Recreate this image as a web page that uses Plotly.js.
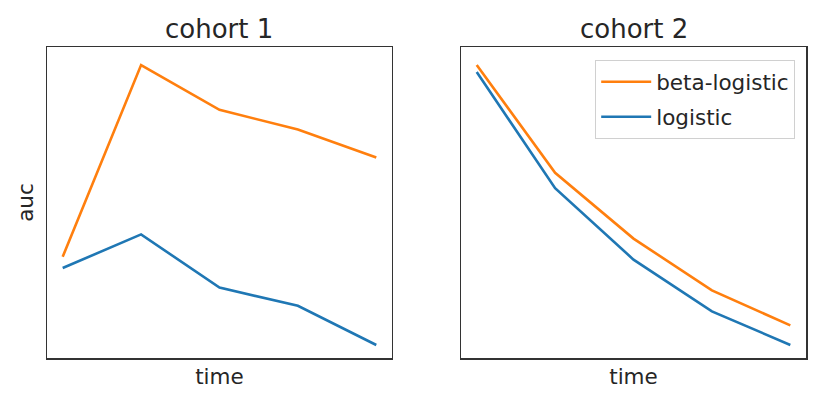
<!DOCTYPE html>
<html><head><meta charset="utf-8">
<script src="https://cdn.plot.ly/plotly-3.0.1.min.js"></script>
<style>body{margin:0;padding:0;background:#fff}</style>
</head><body>
<div id="chart" style="width:831px;height:407px"></div>
<script>
const time = [0, 1, 2, 3, 4];
const cohort1BetaLogistic = [0.663, 0.800, 0.768, 0.754, 0.734];
const cohort1Logistic = [0.655, 0.679, 0.641, 0.628, 0.600];
const cohort2BetaLogistic = [0.800, 0.723, 0.676, 0.639, 0.614];
const cohort2Logistic = [0.795, 0.712, 0.661, 0.624, 0.600];
const subplotTitles = ["cohort 1", "cohort 2"];

const orange = "#ff7f0e", blue = "#1f77b4";
const font = {family: "DejaVu Sans", color: "#262626"};

const traces = [
  {x: time, y: cohort1BetaLogistic, mode: "lines", line: {color: orange, width: 2.6}, xaxis: "x", yaxis: "y", showlegend: false, name: "beta-logistic"},
  {x: time, y: cohort1Logistic, mode: "lines", line: {color: blue, width: 2.6}, xaxis: "x", yaxis: "y", showlegend: false, name: "logistic"},
  {x: time, y: cohort2BetaLogistic, mode: "lines", line: {color: orange, width: 2.6}, xaxis: "x2", yaxis: "y2", name: "beta-logistic", legendgroup: "a"},
  {x: time, y: cohort2Logistic, mode: "lines", line: {color: blue, width: 2.6}, xaxis: "x2", yaxis: "y2", name: "logistic", legendgroup: "b"}
];

const axBase = {showgrid: false, zeroline: false, showticklabels: false, ticks: "", showline: true, mirror: true, linecolor: "#333", linewidth: 1.5};
const yRange = [0.5907, 0.8129];
const xRange = [-0.2, 4.2];
const labelFont = Object.assign({size: 21.5}, font);

const layout = {
  width: 831, height: 407,
  margin: {l: 47, r: 25, t: 47, b: 49},
  paper_bgcolor: "#fff", plot_bgcolor: "#fff",
  font: Object.assign({size: 15}, font),
  xaxis: Object.assign({}, axBase, {domain: [0, 0.4545], range: xRange, title: {text: "time", font: labelFont, standoff: 10}}),
  yaxis: Object.assign({}, axBase, {range: yRange, title: {text: "auc", font: labelFont, standoff: 6}}),
  xaxis2: Object.assign({}, axBase, {domain: [0.5455, 1], range: xRange, anchor: "y2", title: {text: "time", font: labelFont, standoff: 10}}),
  yaxis2: Object.assign({}, axBase, {range: yRange, anchor: "x2"}),
  legend: {x: 0.9855, y: 0.958, xanchor: "right", yanchor: "top", bgcolor: "rgba(255,255,255,0.8)", bordercolor: "#d0d0d0", borderwidth: 1.2, font: Object.assign({size: 21.5}, font), tracegroupgap: 4, itemwidth: 50, entrywidth: 150, entrywidthmode: "pixels"},
  annotations: [
    {text: subplotTitles[0], xref: "x domain", yref: "paper", x: 0.5, y: 1, yanchor: "bottom", showarrow: false, yshift: 1, font: Object.assign({size: 26}, font)},
    {text: subplotTitles[1], xref: "x2 domain", yref: "paper", x: 0.5, y: 1, yanchor: "bottom", showarrow: false, yshift: 1, font: Object.assign({size: 26}, font)}
  ]
};

Plotly.newPlot("chart", traces, layout, {displayModeBar: false, staticPlot: true});
</script>
</body></html>
